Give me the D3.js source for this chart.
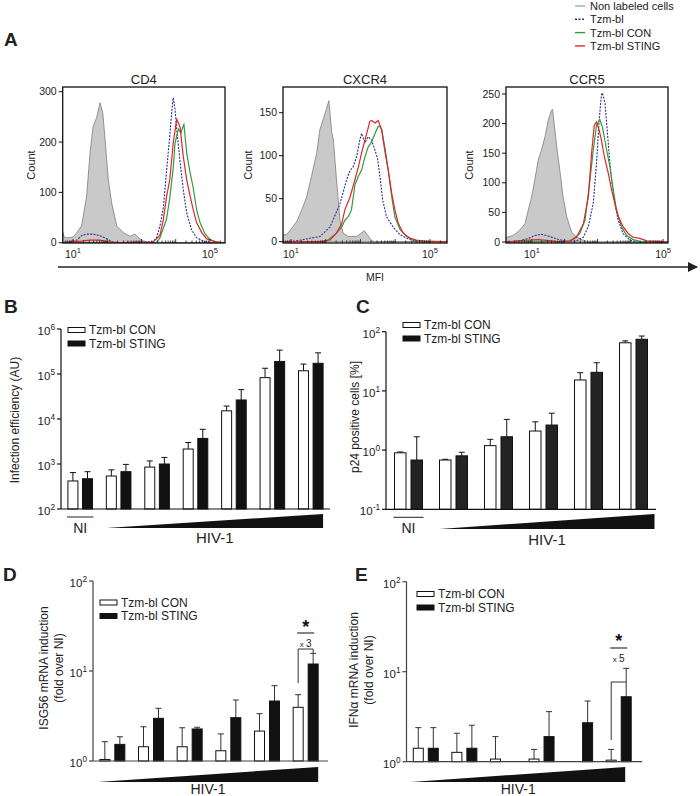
<!DOCTYPE html>
<html><head><meta charset="utf-8">
<script src="https://cdn.jsdelivr.net/npm/d3@7"></script>
<style>body{margin:0;background:#fff}svg{display:block}</style>
</head><body>
<svg id="c" width="700" height="796"></svg>
<script>
// ---------------- DATA ----------------
// Panel A: flow cytometry histograms, [log10(MFI), count]
const cd4Gray=[[0.70,0],[0.71,20],[0.75,10],[0.91,10],[1.01,12],[1.11,20],[1.25,33],[1.40,93],[1.50,179],[1.59,232],[1.69,248],[1.79,278],[1.87,258],[1.93,212],[2.03,126],[2.13,79],[2.28,33],[2.47,20],[2.66,13],[2.81,17],[2.96,7],[3.15,1],[3.5,0],[5.44,0]];
const cd4Blue=[[0.70,0],[1.11,5],[1.25,14],[1.40,17],[1.59,17],[1.79,14],[1.98,8],[2.13,2],[2.28,0],[3.34,2],[3.44,10],[3.54,33],[3.64,70],[3.73,140],[3.83,215],[3.91,280],[3.93,288],[3.98,265],[4.03,225],[4.13,159],[4.22,106],[4.32,60],[4.46,26],[4.61,10],[4.81,3],[5.00,0],[5.44,0]];
const cd4Green=[[0.70,0],[3.44,0],[3.54,10],[3.73,46],[3.83,90],[3.93,150],[3.98,198],[4.08,226],[4.15,218],[4.22,232],[4.24,235],[4.32,179],[4.42,139],[4.51,110],[4.61,66],[4.71,40],[4.86,17],[5.00,7],[5.19,1],[5.44,0]];
const cd4Red=[[0.70,0],[1.25,3],[1.5,5],[1.79,5],[2.0,2],[2.3,0],[3.34,1],[3.54,15],[3.64,46],[3.73,90],[3.83,126],[3.93,199],[4.03,245],[4.08,238],[4.13,229],[4.22,172],[4.32,126],[4.42,93],[4.51,66],[4.61,40],[4.76,20],[4.90,8],[5.10,3],[5.29,0],[5.44,0]];

const cxGray=[[0.77,8],[0.87,8],[0.97,13],[1.16,23],[1.31,37],[1.45,52],[1.59,76],[1.74,103],[1.83,130],[1.98,149],[2.09,164],[2.17,128],[2.22,118],[2.31,72],[2.41,25],[2.50,10],[2.65,6],[2.89,6],[3.03,10],[3.10,13],[3.20,8],[3.30,2],[3.40,0],[5.49,0]];
const cxBlue=[[0.77,0],[1.16,1],[1.55,4],[1.83,6],[2.12,17],[2.41,44],[2.60,72],[2.70,83],[2.79,87],[2.89,99],[2.98,118],[3.03,126],[3.13,115],[3.22,122],[3.32,118],[3.42,106],[3.49,97],[3.56,76],[3.64,48],[3.75,29],[3.94,17],[4.14,8],[4.33,4],[4.61,0],[5.49,0]];
const cxGreen=[[0.77,0],[2.0,0],[2.31,10],[2.46,17],[2.55,25],[2.65,29],[2.74,37],[2.84,66],[2.94,76],[3.03,83],[3.13,99],[3.22,110],[3.32,116],[3.42,126],[3.51,134],[3.56,134],[3.61,130],[3.70,110],[3.80,83],[3.90,52],[3.99,29],[4.14,14],[4.33,6],[4.61,1],[5.49,0]];
const cxRed=[[0.77,0],[1.83,0],[2.12,2],[2.31,10],[2.46,21],[2.55,37],[2.70,52],[2.84,72],[2.94,87],[3.03,103],[3.18,126],[3.27,140],[3.32,141],[3.42,138],[3.51,141],[3.61,130],[3.70,106],[3.80,83],[3.90,56],[3.99,37],[4.09,21],[4.23,10],[4.42,4],[4.61,2],[4.90,0],[5.49,0]];

const ccGray=[[0.21,8],[0.23,8],[0.43,11],[0.63,20],[0.79,31],[0.89,54],[0.99,76],[1.09,105],[1.19,138],[1.29,155],[1.40,178],[1.50,206],[1.60,223],[1.63,224],[1.70,189],[1.77,155],[1.85,122],[1.95,76],[2.06,43],[2.21,17],[2.36,8],[2.57,3],[2.77,0],[5.15,0]];
const ccBlue=[[0.21,0],[0.63,2],[0.89,6],[1.09,11],[1.29,13],[1.50,10],[1.77,5],[2.06,1],[2.36,2],[2.57,8],[2.72,26],[2.87,65],[2.97,133],[3.05,206],[3.12,248],[3.15,252],[3.23,234],[3.28,200],[3.36,144],[3.43,105],[3.53,65],[3.63,37],[3.78,14],[3.99,3],[4.19,0],[5.15,0]];
const ccGreen=[[0.21,0],[2.16,1],[2.46,14],[2.62,37],[2.77,105],[2.87,155],[2.97,197],[3.07,207],[3.15,194],[3.28,155],[3.38,127],[3.48,88],[3.58,54],[3.73,26],[3.89,11],[4.09,4],[4.29,1],[5.15,0]];
const ccRed=[[0.21,0],[0.8,3],[1.2,4],[1.6,2],[1.85,0],[2.16,2],[2.36,8],[2.57,31],[2.72,76],[2.82,150],[2.90,197],[2.97,203],[3.05,189],[3.12,172],[3.21,144],[3.33,116],[3.43,88],[3.53,65],[3.63,43],[3.78,26],[3.94,14],[4.09,8],[4.29,6],[4.50,2],[4.90,1],[5.15,0]];

const histTitles=["CD4","CXCR4","CCR5"];
const cd4Ticks=[0,100,200,300];
const cxTicks=[0,50,100,150];
const ccTicks=[0,50,100,150,200,250];
const mfiTicks=[1,5];
const legendA=["Non labeled cells","Tzm-bl","Tzm-bl CON","Tzm-bl STING"];
const seriesNames=["Tzm-bl CON","Tzm-bl STING"];

// Panel B: infection efficiency (AU); value and top of error bar
const groupsB=["NI","h1","h2","h3","h4","h5","h6"];
const conB=[420,540,855,2150,15200,83000,118000];
const conBTop=[645,740,1170,3000,19400,134000,166000];
const stingB=[470,675,1000,3700,26500,190000,173000];
const stingBTop=[675,980,1400,5900,45000,340000,295000];
const decB=[2,3,4,5,6];

// Panel C: p24 positive cells [%]
const groupsC=["NI","h1","h2","h3","h4","h5"];
const conC=[0.90,0.68,1.19,2.1,15.3,65];
const conCTop=[0.93,0.70,1.52,3.0,20.3,70];
const stingC=[0.68,0.80,1.68,2.65,20.6,74.5];
const stingCTop=[1.68,0.92,3.3,4.2,29.9,84.5];
const decC=[-1,0,1,2];

// Panel D: ISG56 mRNA induction
const groupsD=["h1","h2","h3","h4","h5","h6"];
const conD=[1.04,1.44,1.44,1.30,2.15,3.95];
const conDTop=[1.64,2.4,2.34,2.0,3.36,5.45];
const stingD=[1.53,2.98,2.27,3.03,4.64,11.96];
const stingDTop=[1.86,3.85,2.37,4.76,6.87,15.7];
const decD=[0,1,2];

// Panel E: IFNa mRNA induction
const groupsE=["h1","h2","h3","h4","h5","h6"];
const conE=[1.41,1.27,1.07,1.07,null,1.04];
const conETop=[2.39,2.07,1.9,1.37,null,1.37];
const stingE=[1.41,1.41,null,1.9,2.71,5.27];
const stingETop=[2.39,2.54,null,3.6,4.72,10.9];
const decE=[0,1,2];

// ---------------- DRAW ----------------
const FONT='"Liberation Sans", Arial, Helvetica, sans-serif';
const svg=d3.select("#c").attr("font-family",FONT);
const COL={gray:"#c9c9c9",grayLine:"#7d7d7d",blue:"#2b2e8c",green:"#2f9e3c",red:"#e3232b"};

function sup(g,x,y,base,exp,anchor,size){
  const t=g.append("text").attr("x",x).attr("y",y).attr("text-anchor",anchor).attr("font-size",size).attr("fill","#222");
  t.append("tspan").text(base);
  t.append("tspan").attr("dy",-size*0.45).attr("font-size",size*0.72).text(exp);
  return t;
}
function panelLetter(x,y,s){svg.append("text").attr("x",x).attr("y",y).attr("font-size",19).attr("font-weight","bold").attr("fill","#222").text(s);}

// ---- Panel A ----
panelLetter(4,46,"A");
const lgA=svg.append("g");
const lgStyles=[{c:"#aaaaaa",d:null},{c:COL.blue,d:"2,1.5"},{c:COL.green,d:null},{c:COL.red,d:null}];
legendA.forEach((s,i)=>{
  const yy=6+i*13.3;
  lgA.append("line").attr("x1",575).attr("x2",585).attr("y1",yy).attr("y2",yy).attr("stroke",lgStyles[i].c).attr("stroke-width",1.4).attr("stroke-dasharray",lgStyles[i].d);
  lgA.append("text").attr("x",590).attr("y",yy+4).attr("font-size",11).attr("fill","#222").text(s);
});

const histCfg=[
 {title:histTitles[0],x0:62.7,x1:225,dom:[0.70,5.44],y0:242.7,yT:91.7,vT:300,ticks:cd4Ticks,data:[cd4Gray,cd4Blue,cd4Green,cd4Red],lab:35},
 {title:histTitles[1],x0:283,x1:447,dom:[0.77,5.49],y0:241.7,yT:112.7,vT:150,ticks:cxTicks,data:[cxGray,cxBlue,cxGreen,cxRed],lab:252},
 {title:histTitles[2],x0:506,x1:668,dom:[0.21,5.15],y0:242,yT:94,vT:250,ticks:ccTicks,data:[ccGray,ccBlue,ccGreen,ccRed],lab:473}
];
const boxTop=87, boxBot=243;
histCfg.forEach((c,k)=>{
  const g=svg.append("g");
  const x=d3.scaleLinear().domain(c.dom).range([c.x0,c.x1]);
  const y=d3.scaleLinear().domain([0,c.vT]).range([c.y0,c.yT]);
  const cid="clipA"+k;
  g.append("clipPath").attr("id",cid).append("rect").attr("x",c.x0).attr("y",boxTop).attr("width",c.x1-c.x0).attr("height",boxBot-boxTop);
  const pg=g.append("g").attr("clip-path",`url(#${cid})`);
  const area=d3.area().x(d=>x(d[0])).y0(y(0)).y1(d=>y(d[1]));
  const line=d3.line().x(d=>x(d[0])).y(d=>y(d[1]));
  pg.append("path").datum(c.data[0]).attr("d",area).attr("fill",COL.gray).attr("stroke",COL.grayLine).attr("stroke-width",0.8);
  pg.append("path").datum(c.data[1]).attr("d",line).attr("fill","none").attr("stroke",COL.blue).attr("stroke-width",1.1).attr("stroke-dasharray","2,1.3");
  pg.append("path").datum(c.data[2]).attr("d",line).attr("fill","none").attr("stroke",COL.green).attr("stroke-width",1.2);
  pg.append("path").datum(c.data[3]).attr("d",line).attr("fill","none").attr("stroke",COL.red).attr("stroke-width",1.2);
  g.append("rect").attr("x",c.x0).attr("y",boxTop).attr("width",c.x1-c.x0).attr("height",boxBot-boxTop).attr("fill","none").attr("stroke","#111").attr("stroke-width",1.3);
  c.ticks.forEach(t=>{
    g.append("line").attr("x1",c.x0-4).attr("x2",c.x0).attr("y1",y(t)).attr("y2",y(t)).attr("stroke","#111");
    g.append("text").attr("x",c.x0-6).attr("y",y(t)).attr("dy","0.35em").attr("text-anchor","end").attr("font-size",10.5).attr("fill","#222").text(t);
  });
  for(let e=Math.ceil(c.dom[0]-1);e<=5;e++){
    for(let m=1;m<10;m++){
      const lv=e+Math.log10(m);
      if(lv<c.dom[0]||lv>c.dom[1])continue;
      g.append("line").attr("x1",x(lv)).attr("x2",x(lv)).attr("y1",boxBot).attr("y2",boxBot-(m===1?4:2.5)).attr("stroke","#111").attr("stroke-width",0.8);
    }
  }
  mfiTicks.forEach(e=>sup(g,x(e),258,"10",e,"middle",10.5));
  g.append("text").attr("x",(c.x0+c.x1)/2).attr("y",84).attr("text-anchor","middle").attr("font-size",13).attr("fill","#222").text(c.title);
  g.append("text").attr("transform",`translate(${c.lab},165) rotate(-90)`).attr("text-anchor","middle").attr("font-size",11).attr("fill","#222").text("Count");
});
svg.append("defs").append("marker").attr("id","arr").attr("viewBox","0 0 10 10").attr("refX",9).attr("refY",5)
  .attr("markerWidth",10).attr("markerHeight",10).attr("markerUnits","userSpaceOnUse").attr("orient","auto")
  .append("path").attr("d","M0,0L10,5L0,10Z").attr("fill","#222");
svg.append("line").attr("x1",58).attr("x2",697).attr("y1",267).attr("y2",267).attr("stroke","#222").attr("stroke-width",1.6).attr("marker-end","url(#arr)");
svg.append("text").attr("x",375).attr("y",281).attr("text-anchor","middle").attr("font-size",10.5).attr("fill","#222").text("MFI");

// ---- Bar panels ----
function barPanel(o){
  const g=svg.append("g");
  const x=d3.scaleBand().domain(o.groups).range([o.xr0,o.xr1]);
  const sub=d3.scaleBand().domain([0,1]).range([-o.half,o.half]).paddingInner(o.pin);
  const y=d3.scaleLog().domain([Math.pow(10,o.dec[0]),Math.pow(10,o.dec[o.dec.length-1])]).range([o.yb,o.yt]);
  const base=y.domain()[0];
  const series=[{v:o.con,t:o.conTop,fill:"#fff"},{v:o.sting,t:o.stingTop,fill:o.black}];
  series.forEach((s,si)=>{
    o.groups.forEach((gname,i)=>{
      if(s.v[i]==null)return;
      const cx=x(gname)+x.bandwidth()/2+sub(si);
      const bw=sub.bandwidth();
      const mid=cx+bw/2;
      g.append("line").attr("x1",mid).attr("x2",mid).attr("y1",y(s.v[i])).attr("y2",y(s.t[i])).attr("stroke",o.errCol).attr("stroke-width",1);
      g.append("line").attr("x1",mid-3).attr("x2",mid+3).attr("y1",y(s.t[i])).attr("y2",y(s.t[i])).attr("stroke",o.errCol).attr("stroke-width",1);
      g.append("rect").attr("x",cx).attr("y",y(s.v[i])).attr("width",bw).attr("height",y(base)-y(s.v[i]))
        .attr("fill",s.fill).attr("stroke","#111").attr("stroke-width",1);
    });
  });
  g.append("line").attr("x1",o.xr0).attr("x2",o.xr0).attr("y1",o.yt).attr("y2",o.yb).attr("stroke",o.axCol).attr("stroke-width",1.2);
  g.append("line").attr("x1",o.xr0).attr("x2",o.axEnd).attr("y1",o.yb).attr("y2",o.yb).attr("stroke",o.axCol).attr("stroke-width",1.2);
  o.dec.forEach(e=>{
    const yy=y(Math.pow(10,e));
    g.append("line").attr("x1",o.xr0-4).attr("x2",o.xr0).attr("y1",yy).attr("y2",yy).attr("stroke",o.axCol).attr("stroke-width",1.2);
    sup(g,o.xr0-6,yy+6,"10",e,"end",11.5);
  });
  const tt=g.append("text").attr("transform",`translate(${o.titleX},${o.titleY}) rotate(-90)`).attr("text-anchor","middle").attr("font-size",12).attr("fill","#222");
  o.title.forEach((ln,i)=>tt.append("tspan").attr("x",0).attr("dy",i===0?0:14.5).text(ln));
  seriesNames.forEach((nm,i)=>{
    const ly=o.legY+i*13.5;
    g.append("rect").attr("x",o.legX).attr("y",ly-2.5).attr("width",17).attr("height",5).attr("fill",i===0?"#fff":"#111").attr("stroke","#111").attr("stroke-width",1);
    g.append("text").attr("x",o.legX+21).attr("y",ly+4.2).attr("font-size",12).attr("fill","#222").text(nm);
  });
  if(o.groups[0]==="NI"){
    const x0=x("NI")+x.bandwidth()/2-o.half, x1=x("NI")+x.bandwidth()/2+o.half;
    g.append("line").attr("x1",x0-1).attr("x2",x1+1).attr("y1",o.yb+8).attr("y2",o.yb+8).attr("stroke","#222").attr("stroke-width",1);
    g.append("text").attr("x",(x0+x1)/2).attr("y",o.yb+24).attr("text-anchor","middle").attr("font-size",14).attr("fill","#222").text("NI");
  }
  const firstH=o.groups.find(d=>d!=="NI");
  const tx0=x(firstH)+x.bandwidth()/2-o.half-o.triPad, tx1=x(o.groups[o.groups.length-1])+x.bandwidth()/2+o.half+o.triPadR;
  g.append("path").attr("d",`M${tx0},${o.triB}L${tx1},${o.triT}L${tx1},${o.triB}Z`).attr("fill","#111");
  g.append("text").attr("x",(tx0+tx1)/2).attr("y",o.hivY).attr("text-anchor","middle").attr("font-size",o.hivSize||15).attr("fill","#222").text("HIV-1");
  return {g,x,sub,y};
}

panelLetter(4,313,"B");
barPanel({groups:groupsB,con:conB,conTop:conBTop,sting:stingB,stingTop:stingBTop,dec:decB,
  xr0:61,xr1:330,axEnd:330,half:12.3,pin:0.315,yb:509,yt:329,black:"#111",errCol:"#111",axCol:"#111",
  title:["Infection efficiency (AU)"],titleX:19,titleY:420,legX:68,legY:330,triB:528,triT:514,triPad:0,triPadR:0,hivY:543});

panelLetter(356,313,"C");
barPanel({groups:groupsC,con:conC,conTop:conCTop,sting:stingC,stingTop:stingCTop,dec:decC,
  xr0:386,xr1:656,axEnd:656,half:14,pin:0.303,yb:509.3,yt:331.7,black:"#232323",errCol:"#111",axCol:"#111",
  title:["p24 positive cells [%]"],titleX:359,titleY:417,legX:403,legY:325,triB:529,triT:514,triPad:0,triPadR:7,hivY:545});

panelLetter(3,581,"D");
const pD=barPanel({groups:groupsD,con:conD,conTop:conDTop,sting:stingD,stingTop:stingDTop,dec:decD,
  xr0:93,xr1:325,axEnd:328,half:12.5,pin:1/3,yb:761,yt:581,black:"#111",errCol:"#333",axCol:"#444",
  title:["ISG56 mRNA induction","(fold over NI)"],titleX:48,titleY:668,legX:100,legY:602.5,triB:782,triT:767,triPad:2,triPadR:0,hivY:794,hivSize:14});

panelLetter(355,581,"E");
const pE=barPanel({groups:groupsE,con:conE,conTop:conETop,sting:stingE,stingTop:stingETop,dec:decE,
  xr0:406.5,xr1:638,axEnd:642,half:12.5,pin:1/3,yb:761.7,yt:581.7,black:"#111",errCol:"#333",axCol:"#444",
  title:["IFNα mRNA induction","(fold over NI)"],titleX:358,titleY:670,legX:417,legY:594,triB:782,triT:767,triPad:2,triPadR:-6,hivY:794,hivSize:14});

function sig(p,gname,leftBot,top,rightBot,txt,txtY,lineY,starY){
  const c=p.x(gname)+p.x.bandwidth()/2;
  const xl=c+p.sub(0)+p.sub.bandwidth()/2, xr=c+p.sub(1)+p.sub.bandwidth()/2;
  const g=p.g;
  g.append("path").attr("d",`M${xl},${leftBot}L${xl},${top}L${xr},${top}L${xr},${rightBot}`).attr("fill","none").attr("stroke","#333").attr("stroke-width",1);
  g.append("text").attr("x",(xl+xr)/2).attr("y",txtY).attr("text-anchor","middle").attr("font-size",10).attr("fill","#222")
    .call(t=>{t.append("tspan").attr("font-size",8).text("x ");t.append("tspan").text(txt);});
  g.append("line").attr("x1",xl-1).attr("x2",xr+1).attr("y1",lineY).attr("y2",lineY).attr("stroke","#333").attr("stroke-width",1.2);
  g.append("text").attr("x",(xl+xr)/2).attr("y",starY).attr("text-anchor","middle").attr("font-size",18).attr("font-weight","bold").attr("fill","#111").text("*");
}
sig(pD,"h6",683,649,653,"3",647,633,633);
sig(pE,"h6",740,682,682,"5",662,648,647);
</script>
</body></html>
